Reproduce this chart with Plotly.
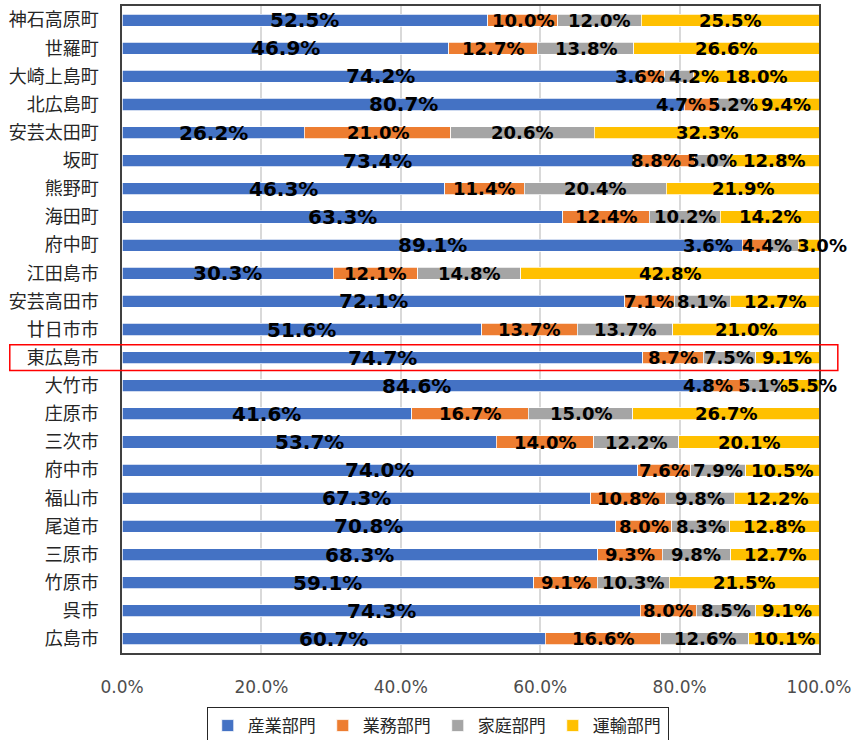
import plotly.graph_objects as go

categories = ["神石高原町", "世羅町", "大崎上島町", "北広島町", "安芸太田町", "坂町", "熊野町",
              "海田町", "府中町", "江田島市", "安芸高田市", "廿日市市", "東広島市", "大竹市",
              "庄原市", "三次市", "府中市", "福山市", "尾道市", "三原市", "竹原市", "呉市", "広島市"]

industry = [52.5, 46.9, 74.2, 80.7, 26.2, 73.4, 46.3, 63.3, 89.1, 30.3, 72.1, 51.6, 74.7, 84.6,
            41.6, 53.7, 74.0, 67.3, 70.8, 68.3, 59.1, 74.3, 60.7]
business = [10.0, 12.7, 3.6, 4.7, 21.0, 8.8, 11.4, 12.4, 3.6, 12.1, 7.1, 13.7, 8.7, 4.8,
            16.7, 14.0, 7.6, 10.8, 8.0, 9.3, 9.1, 8.0, 16.6]
household = [12.0, 13.8, 4.2, 5.2, 20.6, 5.0, 20.4, 10.2, 4.4, 14.8, 8.1, 13.7, 7.5, 5.1,
             15.0, 12.2, 7.9, 9.8, 8.3, 9.8, 10.3, 8.5, 12.6]
transport = [25.5, 26.6, 18.0, 9.4, 32.3, 12.8, 21.9, 14.2, 3.0, 42.8, 12.7, 21.0, 9.1, 5.5,
             26.7, 20.1, 10.5, 12.2, 12.8, 12.7, 21.5, 9.1, 10.1]

series_names = ["産業部門", "業務部門", "家庭部門", "運輸部門"]
series_values = [industry, business, household, transport]
x_ticks = [0, 20, 40, 60, 80, 100]
x_tick_labels = ["0.0%", "20.0%", "40.0%", "60.0%", "80.0%", "100.0%"]
highlight = "東広島市"

# styling
colors = ["#4472C4", "#ED7D31", "#A5A5A5", "#FFC000"]
label_sizes = [20, 18, 18, 18]
# manual pixel nudges of crowded labels (series index, category) -> px
label_nudges = {
    (1, "大崎上島町"): -12, (2, "大崎上島町"): 15,
    (1, "北広島町"): -20, (2, "北広島町"): -2,
    (1, "府中町"): -47, (2, "府中町"): -16, (3, "府中町"): 13,
    (1, "大竹市"): -20, (3, "大竹市"): 12,
    (1, "坂町"): -8,
}

fig = go.Figure()
for name, vals, col in zip(series_names, series_values, colors):
    fig.add_trace(go.Bar(
        y=categories, x=vals, name=name, orientation="h",
        marker=dict(color=col, line=dict(color="white", width=0.75)),
        hoverinfo="x+y+name",
    ))

annotations = []
for j, cat in enumerate(categories):
    row = [s[j] for s in series_values]
    total = sum(row)
    start = 0.0
    for i, v in enumerate(row):
        pct = v / total * 100
        annotations.append(dict(
            x=start + pct / 2, y=cat, xref="x", yref="y",
            text=f"{v:.1f}%", showarrow=False,
            xshift=label_nudges.get((i, cat), 0),
            font=dict(family="DejaVu Sans", size=label_sizes[i], color="#000000", weight="bold"),
        ))
        start += pct

hi = categories.index(highlight)
fig.add_shape(type="rect", xref="paper", yref="y",
              x0=-0.161, x1=1.027, y0=hi - 0.46, y1=hi + 0.46,
              line=dict(color="#FF0000", width=1.5), fillcolor="rgba(0,0,0,0)", layer="above")

fig.update_layout(
    barmode="stack", barnorm="percent", bargap=0.57,
    width=857, height=740,
    margin=dict(l=122, r=38, t=6, b=87, autoexpand=False),
    plot_bgcolor="white", paper_bgcolor="white",
    annotations=annotations,
    showlegend=True,
    legend=dict(orientation="h", x=0.453, xanchor="center", y=-0.0835, yanchor="top",
                bordercolor="#262626", borderwidth=1, bgcolor="white",
                font=dict(family="Noto Sans CJK JP", size=17, color="#262626"),
                traceorder="normal", itemwidth=30, entrywidth=70),
    font=dict(family="Noto Sans CJK JP"),
)
fig.update_xaxes(range=[0, 100], tickvals=x_ticks, ticktext=x_tick_labels, automargin=False,
                 showgrid=True, gridcolor="#D9D9D9", gridwidth=1.5,
                 showline=True, mirror=True, linecolor="#404040", linewidth=1.5,
                 tickfont=dict(family="DejaVu Sans", size=17, color="#4d4d4d"),
                 ticks="", ticklabelstandoff=18, zeroline=False)
fig.update_yaxes(autorange="reversed", automargin=False,
                 showline=True, mirror=True, linecolor="#404040", linewidth=1.5,
                 tickfont=dict(family="Noto Sans CJK JP", size=18, color="#262626"),
                 ticks="", ticklabelstandoff=18)

fig.write_html("out.html", config={"displayModeBar": False},
               post_script="document.body.style.margin='0';")
